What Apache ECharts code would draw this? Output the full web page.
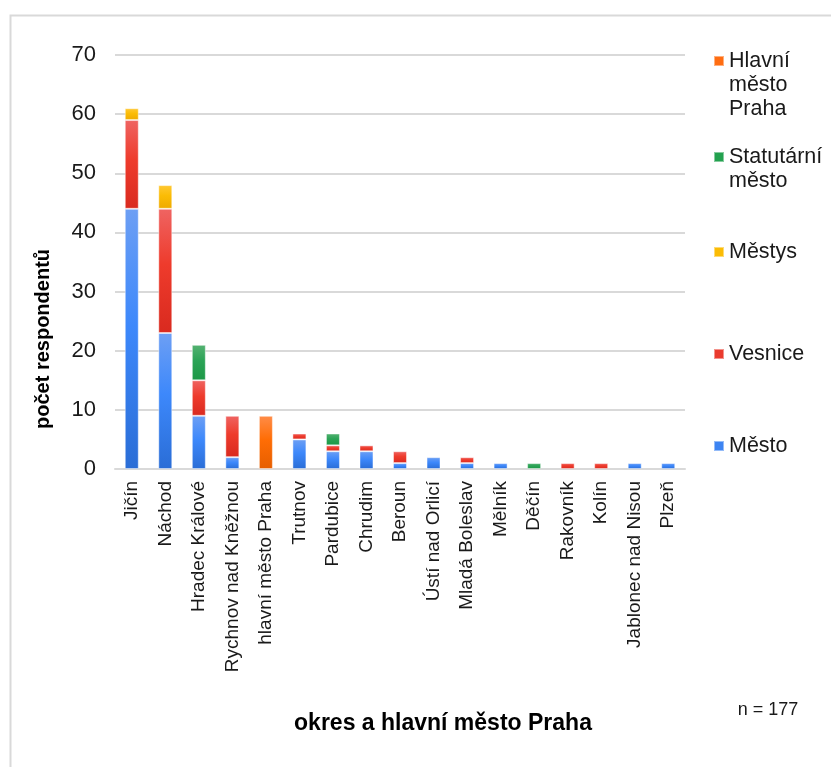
<!DOCTYPE html>
<html>
<head>
<meta charset="utf-8">
<script src="https://cdn.jsdelivr.net/npm/echarts@6/dist/echarts.min.js"></script>
<style>
  html, body { margin: 0; padding: 0; background: #fff; }
  #chart { width: 831px; height: 767px; }
</style>
</head>
<body>
<div id="chart"></div>
<script>
// Districts (okresy) and Prague, ordered by number of respondents
const categories = [
  'Jičín', 'Náchod', 'Hradec Králové', 'Rychnov nad Kněžnou', 'hlavní město Praha',
  'Trutnov', 'Pardubice', 'Chrudim', 'Beroun', 'Ústí nad Orlicí', 'Mladá Boleslav',
  'Mělník', 'Děčín', 'Rakovník', 'Kolín', 'Jablonec nad Nisou', 'Plzeň'
];

// Respondents by type of municipality
const mesto       = [44, 23, 9, 2, 0, 5, 3, 3, 1, 2, 1, 1, 0, 0, 0, 1, 1];
const vesnice     = [15, 21, 6, 7, 0, 1, 1, 1, 2, 0, 1, 0, 0, 1, 1, 0, 0];
const mestys      = [ 2,  4, 0, 0, 0, 0, 0, 0, 0, 0, 0, 0, 0, 0, 0, 0, 0];
const statutarni  = [ 0,  0, 6, 0, 0, 0, 2, 0, 0, 0, 0, 0, 1, 0, 0, 0, 0];
const praha       = [ 0,  0, 0, 0, 9, 0, 0, 0, 0, 0, 0, 0, 0, 0, 0, 0, 0];

const yTicks = [0, 10, 20, 30, 40, 50, 60, 70];
const sampleSize = 177;

const FONT = '"Liberation Sans", Arial, sans-serif';

function grad(top, mid, bottom) {
  return new echarts.graphic.LinearGradient(0, 0, 0, 1, [
    { offset: 0, color: top },
    { offset: 0.45, color: mid },
    { offset: 1, color: bottom }
  ]);
}

const seriesDefs = [
  { name: 'Město', data: mesto, icon: '#3d84f2', fill: grad('#6d9ff4', '#3d88fb', '#2a6dd6') },
  { name: 'Vesnice', data: vesnice, icon: '#ea3b2e', fill: grad('#ef6462', '#ee3b2c', '#d92a1f') },
  { name: 'Městys', data: mestys, icon: '#fbbc05', fill: grad('#ffc833', '#fbbc05', '#eeaa00') },
  { name: 'Statutární město', data: statutarni, icon: '#23a14f', fill: grad('#55b272', '#2ba356', '#1c9846') },
  { name: 'Hlavní město Praha', data: praha, icon: '#ff6d12', fill: grad('#ff8c48', '#ff6d05', '#e65e00') }
];

const series = seriesDefs.map(s => ({
  name: s.name,
  type: 'bar',
  stack: 'total',
  barWidth: 14,
  data: s.data.map(v => (v === 0 ? null : v)),
  itemStyle: {
    color: s.fill,
    borderColor: 'rgba(255,255,255,0.45)',
    borderWidth: 1
  },
  emphasis: { disabled: true }
}));

// Each legend entry is its own component; blank lines before a wrapped label
// keep the marker level with the label's first line.
const legendLine = 24;
function legendFor(name, label, iconCenterY, color) {
  const lines = label.split('\n');
  const pad = [];
  for (let i = 1; i < lines.length; i++) pad.push(' ');
  const text = pad.concat(lines).join('\n');
  const boxH = (pad.length + lines.length) * legendLine;
  return {
    data: [{ name: name, icon: 'rect', itemStyle: { color: color } }],
    left: 713,
    top: iconCenterY - boxH / 2,
    padding: 0,
    itemWidth: 10,
    itemHeight: 10,
    itemGap: 6,
    selectedMode: false,
    formatter: () => text,
    textStyle: {
      fontFamily: FONT,
      fontSize: 21.5,
      color: '#1a1a1a',
      lineHeight: legendLine
    }
  };
}

const legends = [
  legendFor('Hlavní město Praha', 'Hlavní\nměsto\nPraha', 61, seriesDefs[4].icon),
  legendFor('Statutární město', 'Statutární\nměsto', 157, seriesDefs[3].icon),
  legendFor('Městys', 'Městys', 252, seriesDefs[2].icon),
  legendFor('Vesnice', 'Vesnice', 354, seriesDefs[1].icon),
  legendFor('Město', 'Město', 446, seriesDefs[0].icon)
];

const chart = echarts.init(document.getElementById('chart'), null, { renderer: 'canvas' });

chart.setOption({
  animation: false,
  backgroundColor: '#fff',
  textStyle: { fontFamily: FONT },
  grid: { left: 115, right: 146, top: 55, bottom: 298, containLabel: false },
  legend: legends,
  xAxis: {
    type: 'category',
    data: categories,
    axisLine: { lineStyle: { color: '#d9d9d9', width: 2 } },
    axisTick: { show: false },
    axisLabel: {
      rotate: 90,
      interval: 0,
      margin: 12,
      fontSize: 19,
      color: '#1a1a1a',
      fontFamily: FONT
    }
  },
  yAxis: {
    type: 'value',
    min: yTicks[0],
    max: yTicks[yTicks.length - 1],
    interval: 10,
    axisLine: { show: false },
    axisTick: { show: false },
    splitLine: { lineStyle: { color: '#d9d9d9', width: 2 } },
    axisLabel: {
      margin: 19,
      fontSize: 22,
      color: '#1a1a1a',
      fontFamily: FONT
    }
  },
  series: series,
  graphic: [
    {
      type: 'rect',
      silent: true,
      shape: { x: 10.5, y: 15.5, width: 1000, height: 1000 },
      style: { fill: 'none', stroke: '#d9d9d9', lineWidth: 2 }
    },
    {
      type: 'text',
      silent: true,
      x: 43,
      y: 339,
      rotation: Math.PI / 2,
      style: {
        text: 'počet respondentů',
        font: 'bold 20px ' + FONT,
        fill: '#000',
        align: 'center',
        verticalAlign: 'middle'
      }
    },
    {
      type: 'text',
      silent: true,
      x: 443,
      y: 724,
      style: {
        text: 'okres a hlavní město Praha',
        font: 'bold 23px ' + FONT,
        fill: '#000',
        align: 'center',
        verticalAlign: 'middle'
      }
    },
    {
      type: 'text',
      silent: true,
      x: 768,
      y: 710,
      style: {
        text: 'n = ' + sampleSize,
        font: '18px ' + FONT,
        fill: '#1a1a1a',
        align: 'center',
        verticalAlign: 'middle'
      }
    }
  ]
});
</script>
</body>
</html>
